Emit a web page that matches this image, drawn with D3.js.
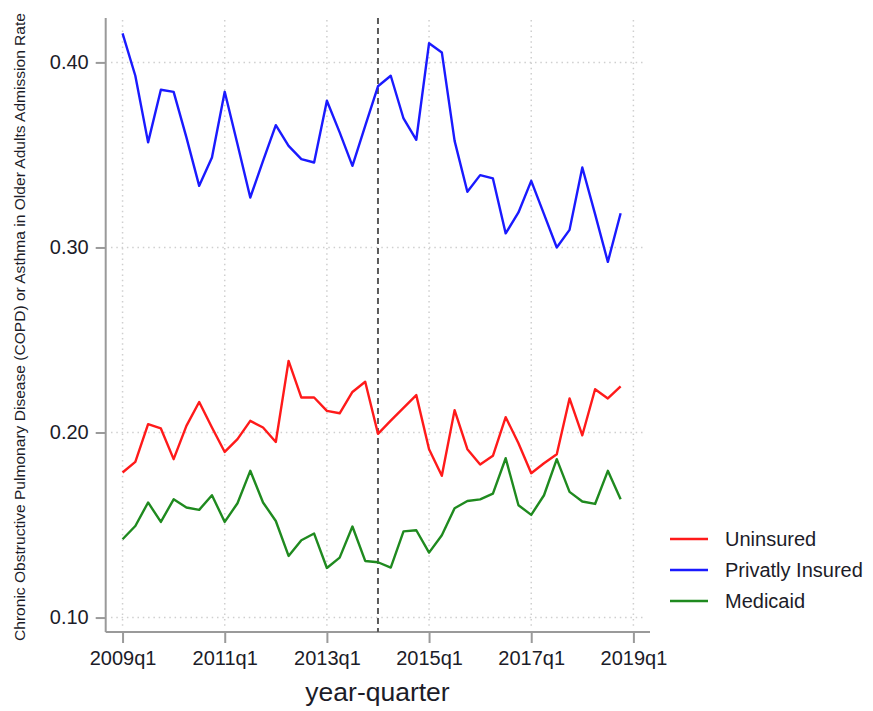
<!DOCTYPE html>
<html>
<head>
<meta charset="utf-8">
<script src="https://cdn.jsdelivr.net/npm/d3@7/dist/d3.min.js"></script>
<style>
  html, body { margin: 0; padding: 0; background: #fff; }
  svg { display: block; font-family: "Liberation Sans", Arial, sans-serif; }
</style>
</head>
<body>
<svg id="chart" width="873" height="711"></svg>
<script>
// Quarterly admission rates, 2009q1 .. 2018q4
const quarters = [];
for (let yr = 2009; yr <= 2018; yr++) for (let q = 1; q <= 4; q++) quarters.push(yr + "q" + q);

const uninsured = [
  0.1784, 0.1841, 0.2045, 0.2022, 0.1856, 0.2036, 0.2165, 0.2027, 0.1895, 0.1964,
  0.2063, 0.2027, 0.1949, 0.2387, 0.2189, 0.2189, 0.2117, 0.2104, 0.2219, 0.2274,
  0.1993, 0.2064, 0.2133, 0.2202, 0.1910, 0.1766, 0.2121, 0.1910, 0.1827, 0.1874,
  0.2083, 0.1942, 0.1780, 0.1834, 0.1883, 0.2184, 0.1985, 0.2234, 0.2184, 0.2249
];
const privatelyInsured = [
  0.4157, 0.3928, 0.3568, 0.3852, 0.3841, 0.3595, 0.3333, 0.3486, 0.3841, 0.3558,
  0.3270, 0.3468, 0.3661, 0.3549, 0.3477, 0.3459, 0.3793, 0.3622, 0.3441, 0.3657,
  0.3871, 0.3928, 0.3697, 0.3582, 0.4104, 0.4054, 0.3576, 0.3301, 0.3391, 0.3373,
  0.3076, 0.3189, 0.3360, 0.3180, 0.3000, 0.3095, 0.3432, 0.3180, 0.2922, 0.3185
];
const medicaid = [
  0.1423, 0.1495, 0.1622, 0.1517, 0.1639, 0.1595, 0.1582, 0.1661, 0.1517, 0.1618,
  0.1793, 0.1622, 0.1522, 0.1333, 0.1418, 0.1454, 0.1268, 0.1324, 0.1492, 0.1306,
  0.1299, 0.1270, 0.1466, 0.1472, 0.1351, 0.1445, 0.1591, 0.1630, 0.1639, 0.1670,
  0.1861, 0.1607, 0.1555, 0.1661, 0.1856, 0.1679, 0.1627, 0.1614, 0.1793, 0.1639
];

const yTicks = [0.10, 0.20, 0.30, 0.40];
const xTickLabels = ["2009q1", "2011q1", "2013q1", "2015q1", "2017q1", "2019q1"];
const policyQuarter = "2014q1";

const seriesNames = ["Uninsured", "Privatly Insured", "Medicaid"];
const seriesColors = ["#ff1a1a", "#1a1aff", "#1f8a1f"];
const seriesValues = [uninsured, privatelyInsured, medicaid];

// label -> quarter index (labels past the data continue the sequence)
const qIndex = lab => (+lab.slice(0, 4) - 2009) * 4 + (+lab.slice(5) - 1);

const svg = d3.select("#chart");
const plotLeft = 105.7, plotRight = 650, plotTop = 18, plotBottom = 632;

const x = d3.scaleLinear().domain([-1.32, 41.3]).range([plotLeft, plotRight]);
const y = d3.scaleLinear().domain([0.0922, 0.424]).range([plotBottom, plotTop]);

const textColor = "#1c1c28";
const axisColor = "#9a9a9a";

// grid
const grid = svg.append("g");
grid.selectAll("line.h").data(yTicks).join("line")
  .attr("x1", 111).attr("x2", 645)
  .attr("y1", d => y(d)).attr("y2", d => y(d))
  .attr("stroke", "#cfcfcf").attr("stroke-width", 1.5).attr("stroke-dasharray", "1.5,3.8");
grid.selectAll("line.v").data(xTickLabels).join("line")
  .attr("x1", d => x(qIndex(d))).attr("x2", d => x(qIndex(d)))
  .attr("y1", 20).attr("y2", 627)
  .attr("stroke", "#cfcfcf").attr("stroke-width", 1.5).attr("stroke-dasharray", "1.5,3.8");

// axes
const yAxis = svg.append("g").attr("transform", `translate(${plotLeft},0)`)
  .call(d3.axisLeft(y).tickValues(yTicks).tickFormat(d3.format(".2f")).tickSize(10).tickPadding(7));
const xAxis = svg.append("g").attr("transform", `translate(0,${plotBottom})`)
  .call(d3.axisBottom(x).tickValues(xTickLabels.map(qIndex))
    .tickFormat((d, i) => xTickLabels[i]).tickSize(11).tickPadding(8));
[yAxis, xAxis].forEach(g => {
  g.select(".domain").attr("stroke", axisColor).attr("stroke-width", 2);
  g.selectAll(".tick line").attr("stroke", axisColor).attr("stroke-width", 2);
  g.selectAll(".tick text").attr("fill", textColor)
    .style("font-size", "20px").style("font-family", "'Liberation Sans', Arial, sans-serif");
});
yAxis.select(".domain").attr("d", `M0,${plotTop}V${plotBottom}`);
xAxis.select(".domain").attr("d", `M${plotLeft},0H${plotRight}`);

// policy line
svg.append("line")
  .attr("x1", x(qIndex(policyQuarter))).attr("x2", x(qIndex(policyQuarter)))
  .attr("y1", plotTop).attr("y2", plotBottom)
  .attr("stroke", "#5a5a5a").attr("stroke-width", 2).attr("stroke-dasharray", "6,4");

// series lines
const line = d3.line().x((d, i) => x(i)).y(d => y(d));
svg.append("g").selectAll("path").data(seriesValues).join("path")
  .attr("d", line)
  .attr("fill", "none")
  .attr("stroke", (d, i) => seriesColors[i])
  .attr("stroke-width", 2.4)
  .attr("stroke-linejoin", "round");

// axis titles
svg.append("text")
  .attr("x", 377.5).attr("y", 701)
  .attr("text-anchor", "middle").attr("fill", textColor)
  .style("font-size", "26.5px")
  .text("year-quarter");

svg.append("text")
  .attr("transform", "translate(25,327) rotate(-90)")
  .attr("text-anchor", "middle").attr("fill", textColor)
  .attr("textLength", 628).attr("lengthAdjust", "spacingAndGlyphs")
  .style("font-size", "14.5px")
  .text("Chronic Obstructive Pulmonary Disease (COPD) or Asthma in Older Adults Admission Rate");

// legend
const legend = svg.append("g").attr("transform", "translate(670,539)");
const items = legend.selectAll("g").data(seriesNames).join("g")
  .attr("transform", (d, i) => `translate(0,${i * 31})`);
items.append("line").attr("x1", 0).attr("x2", 38).attr("y1", 0).attr("y2", 0)
  .attr("stroke", (d, i) => seriesColors[i]).attr("stroke-width", 2.4);
items.append("text").attr("x", 55).attr("y", 7)
  .attr("fill", textColor).style("font-size", "20px")
  .text(d => d);
</script>
</body>
</html>
